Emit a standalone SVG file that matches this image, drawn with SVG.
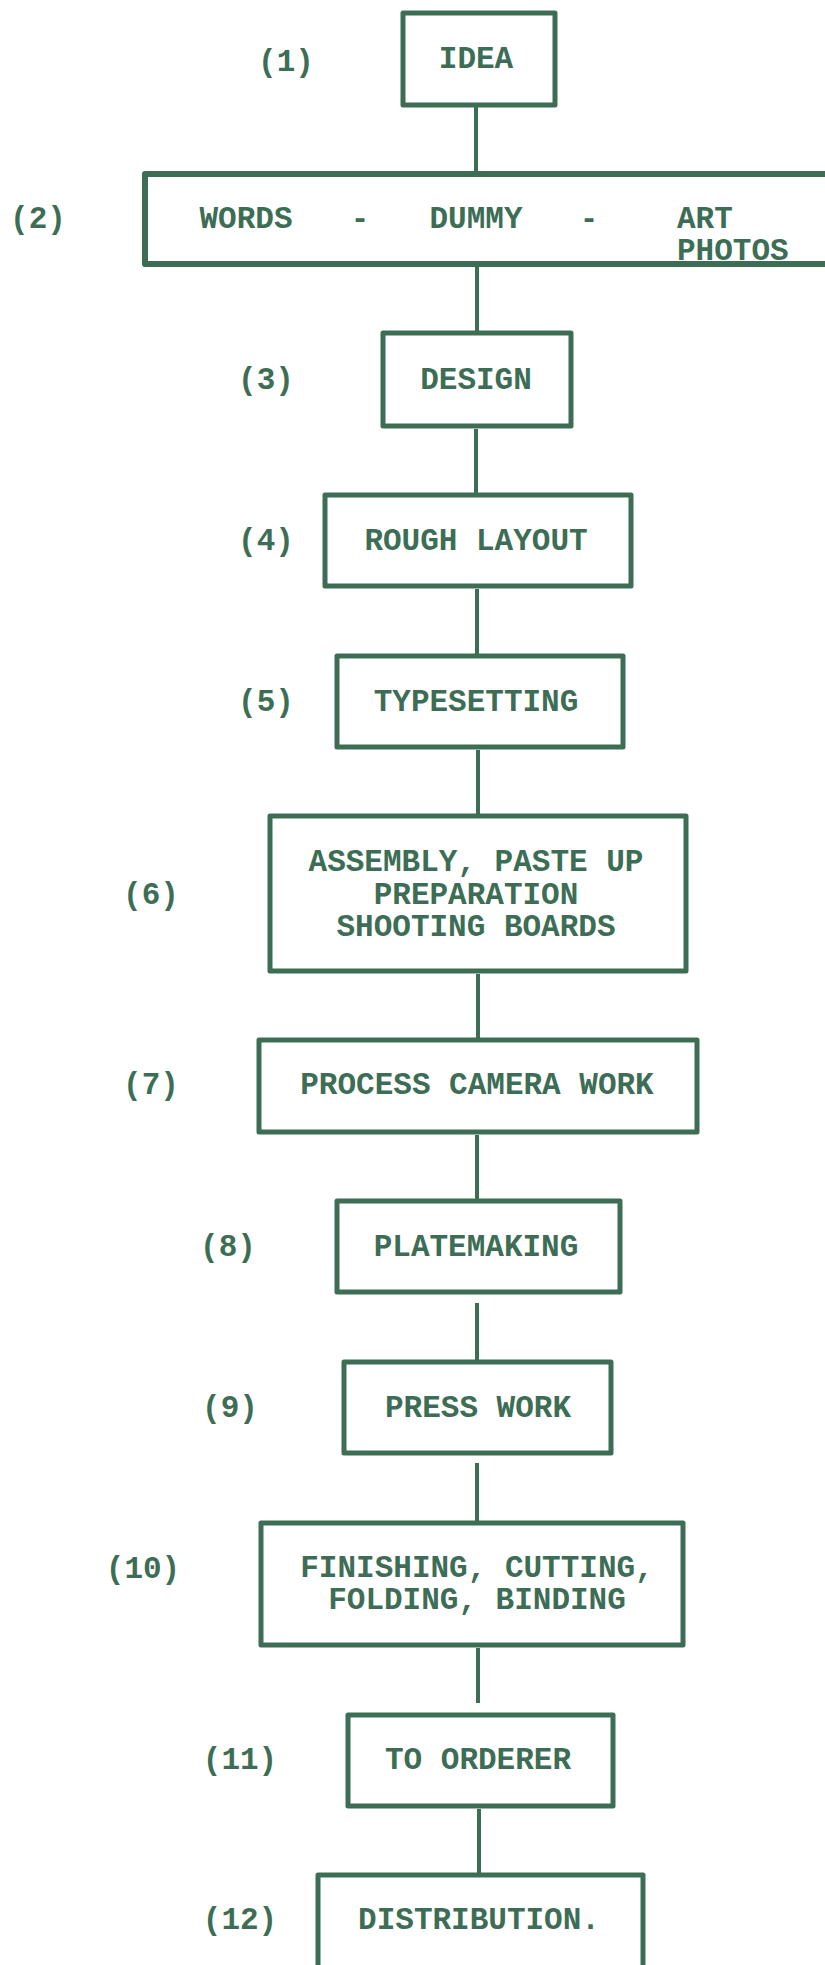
<svg xmlns="http://www.w3.org/2000/svg" width="825" height="1965" viewBox="0 0 825 1965">
<style>
.bx{fill:none;stroke:#3d6e55;stroke-width:5;stroke-linejoin:round}
.cn{stroke:#3d6e55;stroke-width:4;fill:none}
text{font-family:"Liberation Mono","DejaVu Sans Mono",monospace;font-weight:bold;font-size:31px;fill:#3d6e55;text-anchor:middle}
.st{text-anchor:start}
</style>
<rect width="825" height="1965" fill="#ffffff"/>
<g id="connectors">
<line class="cn" x1="476" y1="107" x2="476" y2="172"/>
<line class="cn" x1="477" y1="267" x2="477" y2="331"/>
<line class="cn" x1="476" y1="429" x2="476" y2="493"/>
<line class="cn" x1="477" y1="589" x2="477" y2="654"/>
<line class="cn" x1="478" y1="750" x2="478" y2="814"/>
<line class="cn" x1="478" y1="974" x2="478" y2="1038"/>
<line class="cn" x1="477" y1="1135" x2="477" y2="1199"/>
<line class="cn" x1="477" y1="1303" x2="477" y2="1360"/>
<line class="cn" x1="477" y1="1463" x2="477" y2="1521"/>
<line class="cn" x1="478" y1="1648" x2="478" y2="1703"/>
<line class="cn" x1="479" y1="1809" x2="479" y2="1873"/>
</g>
<g id="n1">
<rect class="bx" x="403" y="13" width="152" height="92"/>
<text x="476" y="68">IDEA</text>
<text x="286" y="71">(1)</text>
</g>
<g id="n2">
<rect class="bx" x="145" y="174" width="720" height="90" style="stroke-width:6"/>
<text x="246" y="228">WORDS</text>
<text x="360" y="228">-</text>
<text x="476" y="228">DUMMY</text>
<text x="589" y="228">-</text>
<text class="st" x="677" y="228">ART</text>
<text class="st" x="677" y="260">PHOTOS</text>
<text x="38" y="228">(2)</text>
</g>
<g id="n3">
<rect class="bx" x="383" y="333" width="188" height="93"/>
<text x="476" y="389">DESIGN</text>
<text x="266" y="389">(3)</text>
</g>
<g id="n4">
<rect class="bx" x="325" y="495" width="306" height="91"/>
<text x="476" y="550">ROUGH LAYOUT</text>
<text x="266" y="550">(4)</text>
</g>
<g id="n5">
<rect class="bx" x="337" y="656" width="286" height="91"/>
<text x="476" y="711">TYPESETTING</text>
<text x="266" y="711">(5)</text>
</g>
<g id="n6">
<rect class="bx" x="270" y="816" width="416" height="155"/>
<text x="476" y="871">ASSEMBLY, PASTE UP</text>
<text x="476" y="904">PREPARATION</text>
<text x="476" y="936">SHOOTING BOARDS</text>
<text x="151" y="904">(6)</text>
</g>
<g id="n7">
<rect class="bx" x="259" y="1040" width="438" height="92"/>
<text x="477" y="1094">PROCESS CAMERA WORK</text>
<text x="151" y="1094">(7)</text>
</g>
<g id="n8">
<rect class="bx" x="337" y="1201" width="283" height="91"/>
<text x="476" y="1256">PLATEMAKING</text>
<text x="228" y="1256">(8)</text>
</g>
<g id="n9">
<rect class="bx" x="344" y="1362" width="267" height="91"/>
<text x="478" y="1417">PRESS WORK</text>
<text x="230" y="1417">(9)</text>
</g>
<g id="n10">
<rect class="bx" x="261" y="1523" width="422" height="122"/>
<text x="477" y="1577">FINISHING, CUTTING,</text>
<text x="477" y="1609">FOLDING, BINDING</text>
<text x="143" y="1578">(10)</text>
</g>
<g id="n11">
<rect class="bx" x="348" y="1715" width="265" height="91"/>
<text x="478" y="1769">TO ORDERER</text>
<text x="240" y="1769">(11)</text>
</g>
<g id="n12">
<rect class="bx" x="318" y="1875" width="325" height="130"/>
<text x="479" y="1929">DISTRIBUTION.</text>
<text x="240" y="1929">(12)</text>
</g>
</svg>
